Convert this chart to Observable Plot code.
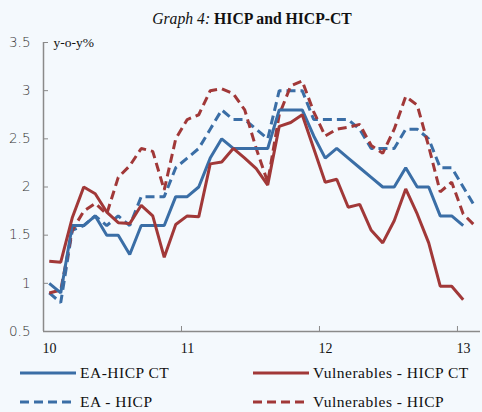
<!DOCTYPE html>
<html>
<head>
<meta charset="utf-8">
<script src="https://cdn.jsdelivr.net/npm/d3@7"></script>
<script src="https://cdn.jsdelivr.net/npm/@observablehq/plot@0.6"></script>
<style>
  html, body { margin: 0; padding: 0; background: #f4f9fd; }
  #wrap { position: relative; width: 482px; height: 412px; background: #f4f9fd; overflow: hidden; }
  #title { position: absolute; left: 0; top: 10px; width: 482px; text-align: center; padding-left: 22px; box-sizing: border-box;
           font-family: "Liberation Serif", "DejaVu Serif", serif; font-size: 15.7px; color: #111; }
  #title i { font-weight: normal; }
  #title b { font-weight: bold; }
  #chart { position: absolute; left: 0; top: 30px; }
  .leg { position: absolute; font-family: "Liberation Serif", serif; font-size: 15.5px; letter-spacing: 0.5px; color: #111; display: flex; align-items: center; white-space: nowrap; }
  .leg svg { margin-right: 4px; }
</style>
</head>
<body>
<div id="wrap">
  <div id="title"><i>Graph 4:</i> <b>HICP and HICP-CT</b></div>
  <div id="chart"></div>
  <div id="legend"></div>
</div>
<script>
// Monthly data, Jan 2010 onward
const seriesNames = ["EA-HICP CT", "Vulnerables - HICP CT", "EA - HICP", "Vulnerables - HICP"];
const eaCT = [1.0, 0.9, 1.6, 1.6, 1.7, 1.5, 1.5, 1.3, 1.6, 1.6, 1.6, 1.9,
              1.9, 2.0, 2.3, 2.5, 2.4, 2.4, 2.4, 2.4, 2.8, 2.8, 2.8, 2.53,
              2.3, 2.4, 2.3, 2.2, 2.1, 2.0, 2.0, 2.2, 2.0, 2.0, 1.7, 1.7,
              1.6];
const vulCT = [1.23, 1.22, 1.68, 2.0, 1.93, 1.74, 1.63, 1.62, 1.81, 1.70, 1.27, 1.61,
               1.70, 1.69, 2.24, 2.26, 2.40, 2.30, 2.19, 2.02, 2.63, 2.67, 2.75, 2.40,
               2.05, 2.08, 1.79, 1.82, 1.55, 1.42, 1.65, 1.98, 1.72, 1.42, 0.97, 0.97,
               0.83];
const eaHICP = [0.9, 0.8, 1.55, 1.6, 1.7, 1.6, 1.7, 1.6, 1.9, 1.9, 1.9, 2.2,
                2.3, 2.4, 2.6, 2.8, 2.7, 2.7, 2.6, 2.5, 3.0, 3.0, 3.0, 2.7,
                2.7, 2.7, 2.7, 2.6, 2.4, 2.4, 2.4, 2.6, 2.6, 2.5, 2.2, 2.2,
                2.0, 1.8];
const vulHICP = [0.9, 0.93, 1.55, 1.75, 1.83, 1.72, 2.1, 2.22, 2.4, 2.37, 1.97, 2.5,
                 2.7, 2.75, 3.0, 3.02, 2.97, 2.8, 2.4, 2.05, 2.75, 3.05, 3.1, 2.78,
                 2.53, 2.6, 2.62, 2.65, 2.43, 2.35, 2.6, 2.94, 2.85, 2.42, 1.95, 2.05,
                 1.72, 1.6];
const yTicks = [0.5, 1, 1.5, 2, 2.5, 3, 3.5];
const xTicks = [10, 11, 12, 13];
const yUnit = "y-o-y%";

const colors = {blue: "#3a6ea6", red: "#a13838"};
const styles = [
  {color: colors.blue, dash: null},
  {color: colors.red, dash: null},
  {color: colors.blue, dash: "9,5"},
  {color: colors.red, dash: "9,5"}
];
const allSeries = [eaCT, vulCT, eaHICP, vulHICP];
const monthX = i => 10 + (i + 0.5) / 12;

const lines = allSeries.map((vals, k) =>
  Plot.line(vals.map((v, i) => ({x: monthX(i), y: v})), {
    x: "x", y: "y", stroke: styles[k].color, strokeWidth: 3,
    strokeDasharray: styles[k].dash, strokeLinejoin: "miter", strokeLinecap: "butt"
  })
);

const plot = Plot.plot({
  width: 482,
  height: 330,
  marginTop: 12,
  marginBottom: 29,
  marginLeft: 43,
  marginRight: 2,
  style: {background: "transparent", overflow: "visible"},
  x: {domain: [10, 13.167], axis: null},
  y: {domain: [0.5, 3.5], axis: null},
  marks: [
    lines[2], lines[3], lines[0], lines[1],
    Plot.ruleX([10], {stroke: "#8a8a8a", strokeWidth: 1.5}),
    Plot.ruleY([0.5], {stroke: "#8a8a8a", strokeWidth: 1.5}),
    Plot.axisY(yTicks, {anchor: "left", tickSize: -5, stroke: "#8a8a8a", text: null, label: null}),
    Plot.axisY(yTicks, {anchor: "left", tickSize: 0, tickPadding: 13, fontSize: 13.5, label: null,
      fontFamily: "DejaVu Sans, sans-serif", fill: "#333", tickFormat: d => String(d), fontWeight: 300}),
    Plot.axisX(xTicks, {anchor: "bottom", tickSize: -5, stroke: "#8a8a8a", text: null, label: null}),
    Plot.axisX(xTicks, {anchor: "bottom", tickSize: 0, tickPadding: 12, dx: 6, fontSize: 14, label: null,
      fontFamily: "Liberation Serif, serif", fill: "#111", tickFormat: d => String(d)}),
    Plot.text([yUnit], {frameAnchor: "top-left", dx: 10, dy: -5, fontSize: 13.5,
      fontFamily: "Liberation Serif, serif", fill: "#111", textAnchor: "start"})
  ]
});
document.getElementById("chart").appendChild(plot);

// Legend
const legendPos = [
  {left: 20, top: 363}, {left: 253, top: 363},
  {left: 20, top: 392}, {left: 253, top: 392}
];
const legend = document.getElementById("legend");
seriesNames.forEach((name, k) => {
  const d = document.createElement("div");
  d.className = "leg";
  d.style.left = legendPos[k].left + "px";
  d.style.top = legendPos[k].top + "px";
  d.style.height = "20px";
  const dash = styles[k].dash ? `stroke-dasharray="9,5"` : "";
  d.innerHTML = `<svg width="56" height="20"><line x1="0" x2="56" y1="10" y2="10" stroke="${styles[k].color}" stroke-width="3" ${dash}/></svg><span>${name}</span>`;
  legend.appendChild(d);
});
</script>
</body>
</html>
